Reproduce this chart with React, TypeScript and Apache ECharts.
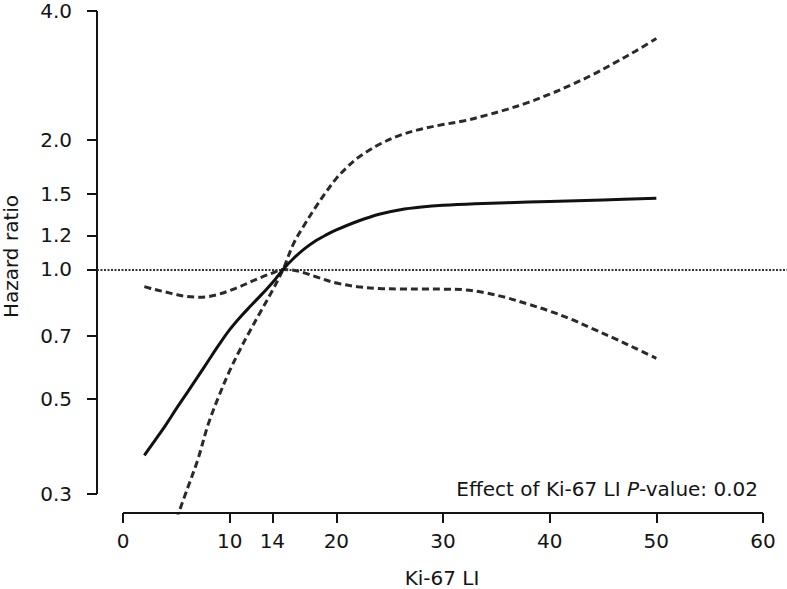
import React, { useEffect, useRef } from "react";
import * as echarts from "echarts";

// Tick labels
const xTicks = [0, 10, 14, 20, 30, 40, 50, 60];
const yTicks = [0.3, 0.5, 0.7, 1.0, 1.2, 1.5, 2.0, 4.0];
const referenceHR = 1.0;

// Estimated hazard ratio (solid)
const estX = [2, 3, 4, 5, 6, 7, 8, 9, 10, 11, 12, 13, 14, 15, 16, 17, 18, 19, 20, 22, 24, 26, 28, 30, 33, 36, 40, 45, 50];
const estHR = [0.369, 0.4, 0.434, 0.474, 0.516, 0.562, 0.613, 0.668, 0.724, 0.775, 0.824, 0.875, 0.931, 1.0, 1.062, 1.117, 1.164, 1.202, 1.236, 1.295, 1.345, 1.378, 1.398, 1.411, 1.423, 1.431, 1.44, 1.452, 1.465];

// Upper confidence band (dashed)
const upperX = [5, 6, 7, 8, 9, 10, 11, 12, 13, 14, 15, 16, 17, 18, 19, 20, 21, 22, 23, 24, 26, 28, 30, 32, 34, 36, 38, 40, 42, 44, 46, 48, 50];
const upperHR = [0.262, 0.307, 0.36, 0.437, 0.508, 0.581, 0.653, 0.727, 0.806, 0.893, 1.0, 1.15, 1.27, 1.39, 1.51, 1.63, 1.73, 1.82, 1.89, 1.955, 2.055, 2.125, 2.175, 2.22, 2.285, 2.36, 2.45, 2.56, 2.69, 2.84, 3.02, 3.22, 3.45];

// Lower confidence band (dashed)
const lowerX = [2, 3, 4, 5, 6, 7, 8, 9, 10, 11, 12, 13, 14, 15, 16, 17, 18, 20, 22, 24, 26, 28, 30, 32, 34, 36, 38, 40, 42, 44, 46, 48, 50];
const lowerHR = [0.912, 0.898, 0.886, 0.874, 0.865, 0.862, 0.865, 0.876, 0.893, 0.913, 0.937, 0.96, 0.981, 1.0, 0.996, 0.982, 0.963, 0.93, 0.912, 0.903, 0.901, 0.901, 0.9, 0.897, 0.882, 0.859, 0.83, 0.8, 0.766, 0.728, 0.692, 0.656, 0.621];

const lg = (v: number) => Math.log10(v);

export default function App() {
  const ref = useRef<HTMLDivElement>(null);
  useEffect(() => {
    const chart = echarts.init(ref.current!, null, { renderer: "svg" });
    const font = "DejaVu Sans";
    const ink = "#141414";
    const xMinAxis = -2.44;
    const xMaxAxis = 62.25;
    const yMinAxis = lg(yTicks[0]) - 0.0443;
    const yMaxAxis = lg(yTicks[yTicks.length - 1]) + 0.0256;
    const toData = (xs: number[], ys: number[]) => xs.map((x, i) => [x, lg(ys[i])]);

    const option: any = {
      animation: false,
      grid: { left: 97, right: 0, top: 0, bottom: 76, containLabel: false, outerBoundsMode: "none" },
      title: {
        text: "{a|Effect of Ki-67 LI }{b|P}{a|-value: 0.02}",
        right: 29,
        top: 479,
        padding: 0,
        textStyle: {
          fontWeight: "normal",
          rich: {
            a: { fontFamily: font, fontSize: 20, color: ink, fontWeight: "normal" },
            b: { fontFamily: font, fontSize: 20, color: ink, fontStyle: "italic", fontWeight: "normal" },
          },
        },
      },
      xAxis: {
        type: "value",
        min: xMinAxis,
        max: xMaxAxis,
        axisLine: { show: false, onZero: false },
        splitLine: { show: false },
        axisTick: { show: true, length: 10, customValues: xTicks, lineStyle: { color: ink, width: 2 } },
        axisLabel: { customValues: xTicks, margin: 18, color: ink, fontFamily: font, fontSize: 20 },
        name: "Ki-67 LI",
        nameLocation: "middle",
        nameGap: 55,
        nameTextStyle: { fontFamily: font, fontSize: 20, color: ink },
      },
      yAxis: {
        type: "value",
        min: yMinAxis,
        max: yMaxAxis,
        axisLine: { show: false, onZero: false },
        splitLine: { show: false },
        axisTick: { show: true, length: 10, customValues: yTicks.map(lg), lineStyle: { color: ink, width: 2 } },
        axisLabel: {
          customValues: yTicks.map(lg),
          margin: 25,
          color: ink,
          fontFamily: font,
          fontSize: 20,
          formatter: (v: number) => Math.pow(10, v).toFixed(1),
        },
        name: "Hazard ratio",
        nameLocation: "middle",
        nameGap: 76,
        nameTextStyle: { fontFamily: font, fontSize: 20, color: ink },
      },
      series: [
        {
          type: "line",
          data: toData(estX, estHR),
          smooth: 0.35,
          symbol: "none",
          lineStyle: { color: "#111", width: 3 },
          markLine: {
            silent: true,
            symbol: ["none", "none"],
            label: { show: false },
            lineStyle: { type: [2, 1.5], width: 2, color: "#333" },
            data: [{ yAxis: lg(referenceHR) }],
          },
          z: 5,
        },
        {
          type: "line",
          data: toData(upperX, upperHR),
          smooth: 0.35,
          symbol: "none",
          lineStyle: { color: "#2a2a2a", width: 3, type: [7, 4] },
        },
        {
          type: "line",
          data: toData(lowerX, lowerHR),
          smooth: 0.35,
          symbol: "none",
          lineStyle: { color: "#2a2a2a", width: 3, type: [7, 4] },
        },
        {
          type: "line",
          data: [[xTicks[0], yMinAxis], [xTicks[xTicks.length - 1], yMinAxis]],
          symbol: "none",
          clip: false,
          silent: true,
          lineStyle: { color: ink, width: 2 },
        },
        {
          type: "line",
          data: [[xMinAxis, lg(yTicks[0])], [xMinAxis, lg(yTicks[yTicks.length - 1])]],
          symbol: "none",
          clip: false,
          silent: true,
          lineStyle: { color: ink, width: 2 },
        },
      ],
    };
    chart.setOption(option);
    return () => chart.dispose();
  }, []);
  return (
    <div
      ref={ref}
      style={{ position: "absolute", left: 0, top: 0, width: 787, height: 589, background: "#fff" }}
    />
  );
}
